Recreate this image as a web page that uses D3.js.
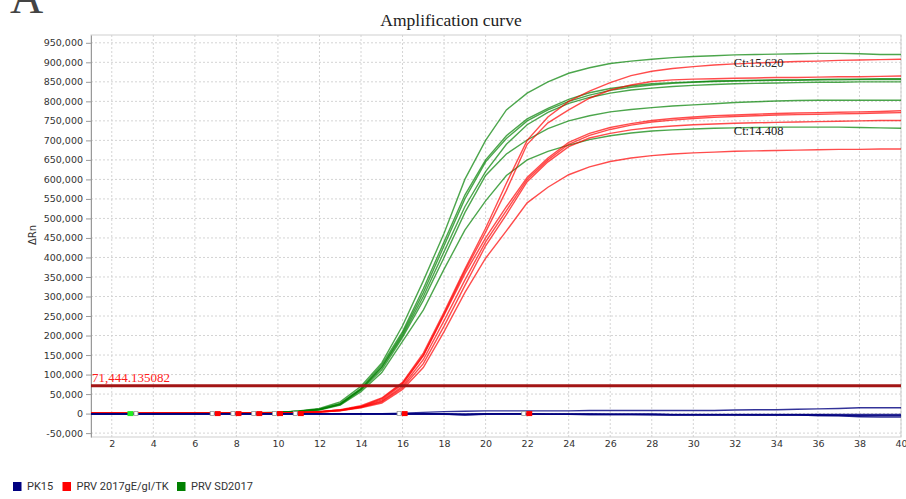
<!DOCTYPE html>
<html>
<head>
<meta charset="utf-8">
<script src="https://cdn.jsdelivr.net/npm/d3@7"></script>
<style>
  body { margin: 0; background: #fff; }
  svg { display: block; }
</style>
</head>
<body>
<div class="svg-chart"></div>
<script>
// cycle numbers on the x axis
const cycles = [1, 2, 3, 4, 5, 6, 7, 8, 9, 10, 11, 12, 13, 14, 15, 16, 17, 18, 19, 20,
  21, 22, 23, 24, 25, 26, 27, 28, 29, 30, 31, 32, 33, 34, 35, 36, 37, 38, 39, 40];

// ΔRn values, in thousands, one array per well
const sd2017 = [
  [1, 1, 0, 0, 1, 1, 1, 2, 2, 3, 7, 13, 30, 70, 130, 225, 340, 462, 600, 700, 778, 821, 850, 872, 886, 897, 903, 908, 912, 915, 917, 919, 920, 921, 922, 923, 923, 922, 920, 920],
  [0, 1, 0, 0, 1, 1, 1, 1, 2, 3, 6, 11, 26, 65, 125, 210, 320, 440, 560, 650, 712, 755, 782, 805, 822, 833, 840, 845, 848, 850, 852, 853, 854, 855, 855, 856, 857, 857, 858, 858],
  [0, 0, 0, 1, 1, 1, 1, 1, 2, 3, 6, 10, 24, 62, 118, 200, 300, 415, 530, 620, 690, 740, 772, 795, 810, 821, 829, 834, 838, 841, 843, 845, 846, 847, 848, 849, 849, 850, 850, 850],
  [1, 0, 0, 0, 0, 1, 1, 1, 2, 3, 6, 11, 25, 63, 120, 205, 310, 430, 550, 645, 705, 750, 778, 800, 816, 828, 836, 842, 846, 849, 851, 852, 853, 854, 854, 855, 855, 856, 856, 856],
  [0, 0, 1, 1, 1, 1, 1, 2, 2, 3, 5, 10, 23, 60, 112, 195, 290, 400, 515, 610, 665, 701, 730, 750, 763, 773, 779, 784, 788, 791, 794, 797, 799, 801, 802, 803, 803, 803, 803, 803],
  [0, 0, 0, 0, 1, 1, 1, 1, 2, 3, 5, 9, 22, 56, 105, 185, 265, 370, 470, 545, 610, 650, 672, 688, 702, 712, 719, 724, 727, 729, 731, 732, 733, 734, 734, 734, 734, 733, 732, 731],
];

const gEgITK = [
  [1, 1, 1, 1, 1, 1, 1, 1, 1, 1, 3, 5, 10, 20, 40, 80, 155, 260, 370, 475, 590, 700, 760, 800, 826, 848, 866, 877, 884, 889, 893, 896, 898, 900, 902, 903, 905, 906, 907, 908],
  [1, 1, 1, 1, 1, 1, 1, 1, 1, 1, 3, 5, 9, 18, 38, 78, 150, 255, 365, 465, 572, 690, 745, 778, 808, 829, 842, 851, 855, 857, 858, 859, 860, 861, 861, 862, 863, 863, 864, 865],
  [1, 1, 1, 1, 1, 1, 1, 1, 1, 1, 2, 5, 9, 18, 35, 75, 148, 252, 358, 450, 530, 605, 655, 695, 718, 733, 743, 751, 756, 760, 763, 765, 767, 769, 770, 771, 772, 773, 774, 776],
  [1, 1, 1, 1, 1, 1, 1, 1, 1, 1, 2, 4, 8, 17, 32, 70, 138, 238, 342, 440, 520, 600, 650, 690, 713, 728, 739, 747, 752, 756, 759, 761, 763, 765, 766, 767, 768, 769, 770, 771],
  [1, 1, 1, 1, 1, 1, 1, 1, 1, 1, 2, 4, 8, 16, 30, 66, 128, 224, 328, 430, 510, 594, 645, 684, 706, 718, 727, 733, 737, 740, 742, 744, 745, 746, 747, 748, 749, 750, 751, 751],
  [1, 1, 1, 1, 1, 1, 1, 1, 1, 1, 2, 4, 7, 15, 27, 62, 118, 210, 310, 398, 468, 540, 580, 612, 632, 646, 655, 661, 665, 668, 670, 672, 673, 674, 675, 676, 677, 677, 678, 678],
];

const pk15 = [
  [0, 0, 0, 0, 0, 0, 0, 0, 0, 0, 0, 0, 0, 0, 0, 1, 3, 5, 6, 7, 7, 7, 7, 7, 8, 8, 8, 8, 8, 8, 8, 9, 10, 10, 11, 12, 13, 15, 15, 15],
  [-1, -1, -1, -1, -1, -1, -1, -1, -1, -1, -1, -1, -1, -1, -1, -1, -1, -1, -4, -2, -1, -1, -2, -2, -2, -2, -2, -2, -3, -3, -3, -3, -3, -3, -3, -3, -4, -5, -5, -5],
  [-1, -1, -1, -1, -1, -1, -1, -1, -1, -1, -1, -1, -1, -1, -1, -1, -1, -2, -3, -1, -1, -1, -2, -2, -3, -3, -3, -4, -4, -4, -4, -4, -4, -4, -4, -5, -6, -8, -9, -9],
  [0, 0, 0, 0, 0, 0, 0, 0, 0, 0, 0, 0, 0, 0, 0, 0, 0, 0, -1, 0, 0, 0, -1, -1, -1, -1, -1, -1, -2, -2, -2, -2, -2, -2, -2, -2, -2, -2, -2, -2],
  [-1, -1, -1, -1, -1, -1, -1, -1, -1, -1, -1, -1, -1, -1, -1, -1, -1, -1, -2, -1, -1, -1, -1, -1, -1, -2, -2, -2, -3, -3, -3, -3, -4, -4, -4, -5, -5, -6, -6, -6],
];

const threshold = 71444.135082;

// baseline markers (cycle positions)
const greenMarkers = [2.9];
const redMarkers = [7.1, 8.1, 9.1, 10.1, 11.1, 16.1, 22.1];

// tick labels
const xTicks = [2, 4, 6, 8, 10, 12, 14, 16, 18, 20, 22, 24, 26, 28, 30, 32, 34, 36, 38, 40];
const yTicks = [-50000, 0, 50000, 100000, 150000, 200000, 250000, 300000, 350000, 400000, 450000,
  500000, 550000, 600000, 650000, 700000, 750000, 800000, 850000, 900000, 950000];

const ctLabels = [
  { text: "Ct:15.620", cycle: 31.95, value: 887000 },
  { text: "Ct:14.408", cycle: 31.95, value: 715000 },
];

const legendItems = [
  { name: "PK15", color: "#000080" },
  { name: "PRV 2017gE/gI/TK", color: "#ff0000" },
  { name: "PRV SD2017", color: "#008000" },
];

const width = 906;
const height = 499;
const plot = { left: 91, right: 901, top: 35, bottom: 437 };

const svg = d3
  .select(".svg-chart")
  .append("svg")
  .attr("width", width)
  .attr("height", height);

const xScale = d3.scaleLinear().domain([1, 40]).range([plot.left, plot.right]);
const yScale = d3.scaleLinear().domain([-60000, 970000]).range([plot.bottom, plot.top]);

const fmt = d3.formatLocale({ decimal: ".", thousands: ",", grouping: [3], currency: ["", ""], minus: "-" }).format(",");

// big panel letter, cut at the top
svg.append("text")
  .attr("x", 10)
  .attr("y", 12.5)
  .style("font-family", "'Liberation Serif', serif")
  .style("font-size", "46px")
  .attr("fill", "#444")
  .text("A");

svg.append("text")
  .attr("x", 451)
  .attr("y", 26)
  .attr("text-anchor", "middle")
  .style("font-family", "'Liberation Serif', serif")
  .style("font-size", "17.5px")
  .attr("fill", "#222")
  .text("Amplification curve");

// grid
const grid = svg.append("g").attr("stroke", "#d4d4d4").attr("stroke-dasharray", "2,2");
grid.selectAll(".hgrid")
  .data(yTicks)
  .enter()
  .append("line")
  .attr("x1", plot.left)
  .attr("x2", plot.right)
  .attr("y1", (d) => yScale(d))
  .attr("y2", (d) => yScale(d));
grid.selectAll(".vgrid")
  .data(xTicks)
  .enter()
  .append("line")
  .attr("x1", (d) => xScale(d))
  .attr("x2", (d) => xScale(d))
  .attr("y1", plot.top)
  .attr("y2", plot.bottom);

svg.append("rect")
  .attr("x", plot.left)
  .attr("y", plot.top)
  .attr("width", plot.right - plot.left)
  .attr("height", plot.bottom - plot.top)
  .attr("fill", "none")
  .attr("stroke", "#cfcfcf");

// axes
const yAxis = svg.append("g")
  .attr("transform", `translate(${plot.left},0)`)
  .call(d3.axisLeft(yScale).tickValues(yTicks).tickFormat(fmt).tickSize(5).tickSizeOuter(0).tickPadding(3));
yAxis.select(".domain").attr("stroke", "#999");
yAxis.selectAll(".tick line").attr("stroke", "#999");
yAxis.selectAll("text")
  .style("font-family", "'DejaVu Sans', sans-serif")
  .style("font-size", "9.5px")
  .attr("fill", "#333");

const xAxis = svg.append("g")
  .attr("transform", `translate(0,${plot.bottom})`)
  .call(d3.axisBottom(xScale).tickValues(xTicks).tickSize(0).tickPadding(3));
xAxis.select(".domain").remove();
xAxis.selectAll("text")
  .style("font-family", "'DejaVu Sans', sans-serif")
  .style("font-size", "9.5px")
  .attr("fill", "#333");

svg.append("text")
  .attr("transform", "translate(36,235) rotate(-90)")
  .attr("text-anchor", "middle")
  .style("font-family", "'DejaVu Sans', sans-serif")
  .style("font-size", "10px")
  .attr("fill", "#333")
  .text("ΔRn");

// curves
const line = d3.line()
  .x((d, i) => xScale(cycles[i]))
  .y((d) => yScale(d * 1000));

const curves = svg.append("g").attr("fill", "none").attr("stroke-width", 1.4);

curves.selectAll(".green")
  .data(sd2017)
  .enter()
  .append("path")
  .attr("d", line)
  .attr("stroke", "#008000")
  .attr("stroke-opacity", 0.7);

curves.selectAll(".red")
  .data(gEgITK)
  .enter()
  .append("path")
  .attr("d", line)
  .attr("stroke", "#ff0000")
  .attr("stroke-opacity", 0.7);

curves.selectAll(".blue")
  .data(pk15)
  .enter()
  .append("path")
  .attr("d", line)
  .attr("stroke", "#000080")
  .attr("stroke-opacity", 0.8);

// threshold
svg.append("line")
  .attr("x1", plot.left)
  .attr("x2", plot.right)
  .attr("y1", yScale(threshold))
  .attr("y2", yScale(threshold))
  .attr("stroke", "#a31515")
  .attr("stroke-width", 3);

svg.append("text")
  .attr("x", plot.left + 1)
  .attr("y", yScale(threshold) - 4)
  .style("font-family", "'Liberation Serif', serif")
  .style("font-size", "13px")
  .attr("fill", "#ff1a1a")
  .text(d3.format(",.6f")(threshold));

// baseline markers
const y0 = yScale(0);
const markers = svg.append("g");
greenMarkers.forEach((c) => {
  markers.append("rect").attr("x", xScale(c) - 3).attr("y", y0 - 2.5).attr("width", 6).attr("height", 5).attr("fill", "#22ee22");
  markers.append("rect").attr("x", xScale(c) + 3.5).attr("y", y0 - 2).attr("width", 4).attr("height", 4)
    .attr("fill", "#fff").attr("stroke", "#999").attr("stroke-width", 0.8);
});
redMarkers.forEach((c) => {
  markers.append("rect").attr("x", xScale(c) - 3).attr("y", y0 - 2.5).attr("width", 6).attr("height", 5).attr("fill", "#ff0000");
  markers.append("rect").attr("x", xScale(c) - 7.5).attr("y", y0 - 2).attr("width", 4).attr("height", 4)
    .attr("fill", "#fff").attr("stroke", "#999").attr("stroke-width", 0.8);
});

// Ct annotations
svg.selectAll(".ct")
  .data(ctLabels)
  .enter()
  .append("text")
  .attr("x", (d) => xScale(d.cycle))
  .attr("y", (d) => yScale(d.value))
  .style("font-family", "'Liberation Serif', serif")
  .style("font-size", "12.5px")
  .attr("fill", "#222")
  .text((d) => d.text);

// legend
const legendX = [13, 62.5, 177];
const legend = svg.selectAll(".legend")
  .data(legendItems)
  .enter()
  .append("g")
  .attr("transform", (d, i) => `translate(${legendX[i]},482)`);
legend.append("rect")
  .attr("width", 8.5)
  .attr("height", 9)
  .attr("fill", (d) => d.color);
legend.append("text")
  .attr("x", 14)
  .attr("y", 8.3)
  .style("font-family", "Roboto, sans-serif")
  .style("font-size", "11px")
  .attr("fill", "#333")
  .text((d) => d.name);
</script>
</body>
</html>
